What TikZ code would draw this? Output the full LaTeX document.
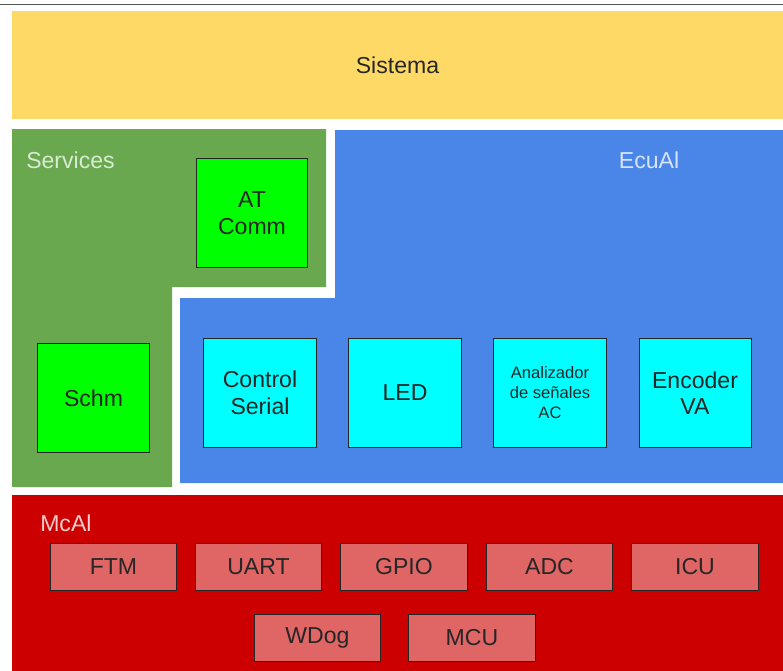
\documentclass[tikz,border=0pt]{standalone}
\usepackage{fontspec}
\setmainfont{Liberation Sans}
\usetikzlibrary{calc}

\definecolor{sysyellow}{HTML}{FFD966}
\definecolor{svcgreen}{HTML}{6AA84F}
\definecolor{ecublue}{HTML}{4A86E8}
\definecolor{mcalred}{HTML}{CC0000}
\definecolor{svcbox}{HTML}{00FF00}
\definecolor{ecubox}{HTML}{00FFFF}
\definecolor{mcalbox}{HTML}{E06666}
\definecolor{svctext}{HTML}{D9EAD3}
\definecolor{ecutext}{HTML}{D6E4FA}
\definecolor{mcaltext}{HTML}{F4CCCC}
\definecolor{rulegray}{HTML}{505A50}

\begin{document}
\begin{tikzpicture}[
  x=0.025cm, y=-0.025cm,
  font=\fontsize{16.4}{19}\selectfont,
  layer/.style={inner sep=0pt, minimum width=19.275cm, align=center},
  tag/.style={inner sep=0pt, anchor=west},
  module/.style={draw=black!85, line width=0.7pt, minimum width=2.8cm, minimum height=2.7cm, align=center, inner sep=0pt, text=black!85},
  svc/.style={module, fill=svcbox},
  ecu/.style={module, fill=ecubox},
  perif/.style={draw=black!85, line width=0.7pt, minimum width=3.15cm, minimum height=1.175cm, inner sep=0pt, fill=mcalbox, text=black!85}
]
\useasboundingbox (0,0) rectangle (783,671);
\draw[rulegray, line width=1.1pt] (0,4.5) -- (783,4.5);

% ---------- Sistema ----------
\node[layer, fill=sysyellow, minimum height=2.7cm, text=black!85] (sistema) at (397.5,65) {Sistema};

% ---------- Services ----------
\fill[svcgreen] (12,129) -- (326,129) -- (326,287) -- (172,287) -- (172,487) -- (12,487) -- cycle;
\node[tag, text=svctext] (svctitle) at (26,160) {Services};

\node[svc, minimum width=2.75cm] (atcomm) at (252,213) {AT\\Comm};
\node[svc, minimum width=2.775cm] (schm) at (93.5,398) {Schm};

% ---------- EcuAl ----------
\fill[ecublue] (335,130) -- (783,130) -- (783,483) -- (180,483) -- (180,298) -- (335,298) -- cycle;
\node[tag, anchor=center, text=ecutext] (ecutitle) at (649,160) {EcuAl};

\node[ecu] (ctrlserial) at (260,393)                {Control\\Serial};
\node[ecu] (led)        at ($(ctrlserial)+(145,0)$) {LED};
\node[ecu, font=\fontsize{11.8}{14.2}\selectfont] (analizador) at ($(led)+(145,0)$) {Analizador\\de señales\\AC};
\node[ecu] (encoder)    at ($(analizador)+(145,0)$) {Encoder\\VA};

% ---------- McAl ----------
\node[layer, fill=mcalred, minimum height=4.4cm] (mcal) at (397.5,583) {};
\node[tag, text=mcaltext] (mcaltitle) at (40,523) {McAl};

\node[perif] (ftm)  at (113.5,566.5)       {FTM};
\node[perif] (uart) at ($(ftm)+(145,0)$)   {UART};
\node[perif] (gpio) at ($(uart)+(145.5,0)$) {GPIO};
\node[perif] (adc)  at ($(gpio)+(145.5,0)$) {ADC};
\node[perif] (icu)  at ($(adc)+(145.5,0)$)  {ICU};

\node[perif] (wdog) at (317.5,638)         {WDog};
\node[perif] (mcu)  at ($(wdog)+(154.5,0)$) {MCU};

\end{tikzpicture}
\end{document}
